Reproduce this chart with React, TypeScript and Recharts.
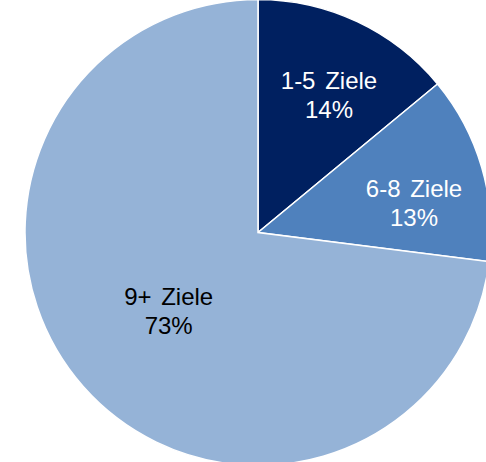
import { PieChart, Pie, Cell } from 'recharts'

const categories = ['1-5 Ziele', '6-8 Ziele', '9+ Ziele']
const shares = [14, 13, 73]
const percentLabels = ['14%', '13%', '73%']

const colors = ['#002060', '#4F81BD', '#95B3D7']
const textColors = ['#ffffff', '#ffffff', '#000000']
// label placement tweaks relative to slice middle (radius ratio, angle shift in degrees)
const labelRatio = [0.662, 0.681, 0.511]
const labelShift = [-2.2, -5.7, 0]

const data = categories.map((name, i) => ({ name, value: shares[i] }))

const RADIAN = Math.PI / 180

function SliceLabel(props: any) {
  const { cx, cy, midAngle, outerRadius, index } = props
  const a = (midAngle + labelShift[index]) * RADIAN
  const r = outerRadius * labelRatio[index]
  const x = cx + r * Math.cos(a)
  const y = cy - r * Math.sin(a)
  return (
    <text
      textAnchor="middle"
      fill={textColors[index]}
      fontFamily="'Liberation Sans', Arial, sans-serif"
      fontSize={24}
      style={{ whiteSpace: 'pre', wordSpacing: 3 }}
    >
      <tspan x={x} y={y - 6.5}>{categories[index]}</tspan>
      <tspan x={x} y={y + 22.5}>{percentLabels[index]}</tspan>
    </text>
  )
}

export default function App() {
  return (
    <div style={{ position: 'absolute', left: 0, top: 0, width: 486, height: 462 }}>
      <PieChart width={486} height={462} margin={{ top: 0, right: 0, bottom: 0, left: 0 }}>
        <Pie
          data={data}
          dataKey="value"
          cx={258}
          cy={232.5}
          innerRadius={0}
          outerRadius={233}
          startAngle={90}
          endAngle={-270}
          stroke="#ffffff"
          strokeWidth={1.5}
          label={SliceLabel}
          labelLine={false}
          isAnimationActive={false}
        >
          {data.map((_, i) => (
            <Cell key={i} fill={colors[i]} />
          ))}
        </Pie>
      </PieChart>
    </div>
  )
}
